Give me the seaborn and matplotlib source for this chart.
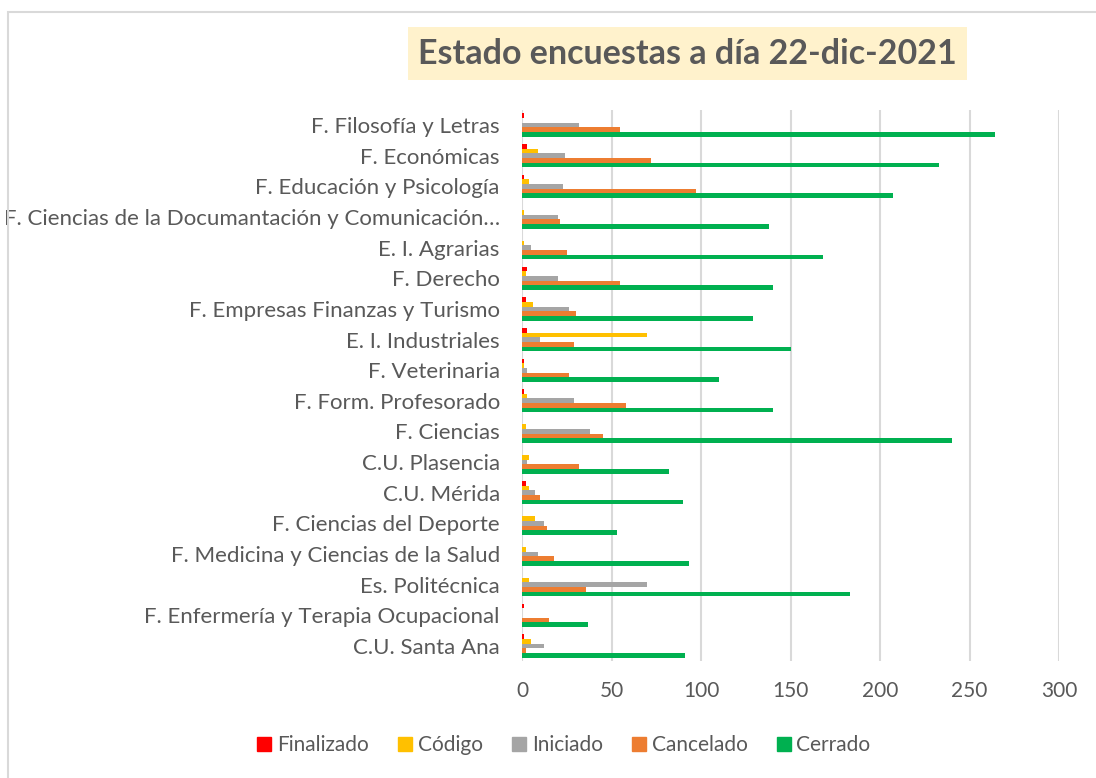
import matplotlib.pyplot as plt
import pandas as pd
import seaborn as sb
from matplotlib.patches import Rectangle
from matplotlib.lines import Line2D

centros = [
    "F. Filosofía y Letras",
    "F. Económicas",
    "F. Educación y Psicología",
    "F. Ciencias de la Documantación y Comunicación…",
    "E. I. Agrarias",
    "F. Derecho",
    "F. Empresas Finanzas y Turismo",
    "E. I. Industriales",
    "F. Veterinaria",
    "F. Form. Profesorado",
    "F. Ciencias",
    "C.U. Plasencia",
    "C.U. Mérida",
    "F. Ciencias del Deporte",
    "F. Medicina y Ciencias de la Salud",
    "Es. Politécnica",
    "F. Enfermería y Terapia Ocupacional",
    "C.U. Santa Ana",
]
finalizado = [1, 3, 1, 0, 0, 3, 2, 3, 1, 1, 0, 0, 2, 0, 0, 0, 1, 1]
codigo = [0, 9, 4, 1, 1, 2, 6, 70, 1, 3, 2, 4, 4, 7, 2, 4, 0, 5]
iniciado = [32, 24, 23, 20, 5, 20, 26, 10, 3, 29, 38, 3, 7, 12, 9, 70, 0, 12]
cancelado = [55, 72, 97, 21, 25, 55, 30, 29, 26, 58, 45, 32, 10, 14, 18, 36, 15, 2]
cerrado = [264, 233, 207, 138, 168, 140, 129, 150, 110, 140, 240, 82, 90, 53, 93, 183, 37, 91]

estados = ["Finalizado", "Código", "Iniciado", "Cancelado", "Cerrado"]
colores = ["#FF0000", "#FFC000", "#A5A5A5", "#ED7D31", "#00B050"]
ticks_x = [0, 50, 100, 150, 200, 250, 300]

df = pd.DataFrame({"centro": centros, "Finalizado": finalizado, "Código": codigo,
                   "Iniciado": iniciado, "Cancelado": cancelado, "Cerrado": cerrado})
df = df.melt(id_vars="centro", var_name="estado", value_name="n")

sb.set_theme(style="white")
plt.rcParams["font.family"] = ["Lato", "DejaVu Sans"]
gris = "#595959"

fig = plt.figure(figsize=(10.96, 7.78), dpi=100)
ax = fig.add_axes([0.4763, 0.15, 0.49, 0.709])

sb.barplot(data=df, y="centro", x="n", hue="estado", hue_order=estados,
           palette=colores, order=centros, orient="h", width=0.76,
           saturation=1, linewidth=0, ax=ax, legend=False)

ax.set_xlim(0, 300)
ax.set_ylim(17.5, -0.5)
ax.set_xticks(ticks_x)
ax.set_xticklabels([str(t) for t in ticks_x])
ax.grid(axis="x", color="#D9D9D9", linewidth=1.5)
ax.set_axisbelow(True)
for s in ax.spines.values():
    s.set_visible(False)
ax.set_xlabel("")
ax.set_ylabel("")
ax.tick_params(axis="y", length=0, pad=16, labelsize=16, labelcolor=gris)
ax.tick_params(axis="x", length=0, pad=14, labelsize=15, labelcolor=gris)

# título con fondo
fig.text(0.627, 0.931, "Estado encuestas a día 22-dic-2021", ha="center", va="center",
         fontsize=24.5, fontweight="bold", color=gris,
         bbox=dict(boxstyle="square,pad=0.3", facecolor="#FFF2CC", edgecolor="none"))

# leyenda
handles = [Line2D([], [], marker="s", linestyle="none", markersize=10,
                  markerfacecolor=c, markeredgecolor=c) for c in colores]
fig.legend(handles, estados, loc="center", bbox_to_anchor=(0.514, 0.042), ncol=5,
           frameon=False, fontsize=15, labelcolor=gris, handletextpad=0.2,
           columnspacing=1.35, handlelength=0.8)

# marco del gráfico
fig.patches.append(Rectangle((8 / 1096, -0.1), 1.2, (778 - 12) / 778 + 0.1,
                             transform=fig.transFigure, fill=False,
                             edgecolor="#D9D9D9", linewidth=1.5))

fig.savefig("out.png", dpi=100)
